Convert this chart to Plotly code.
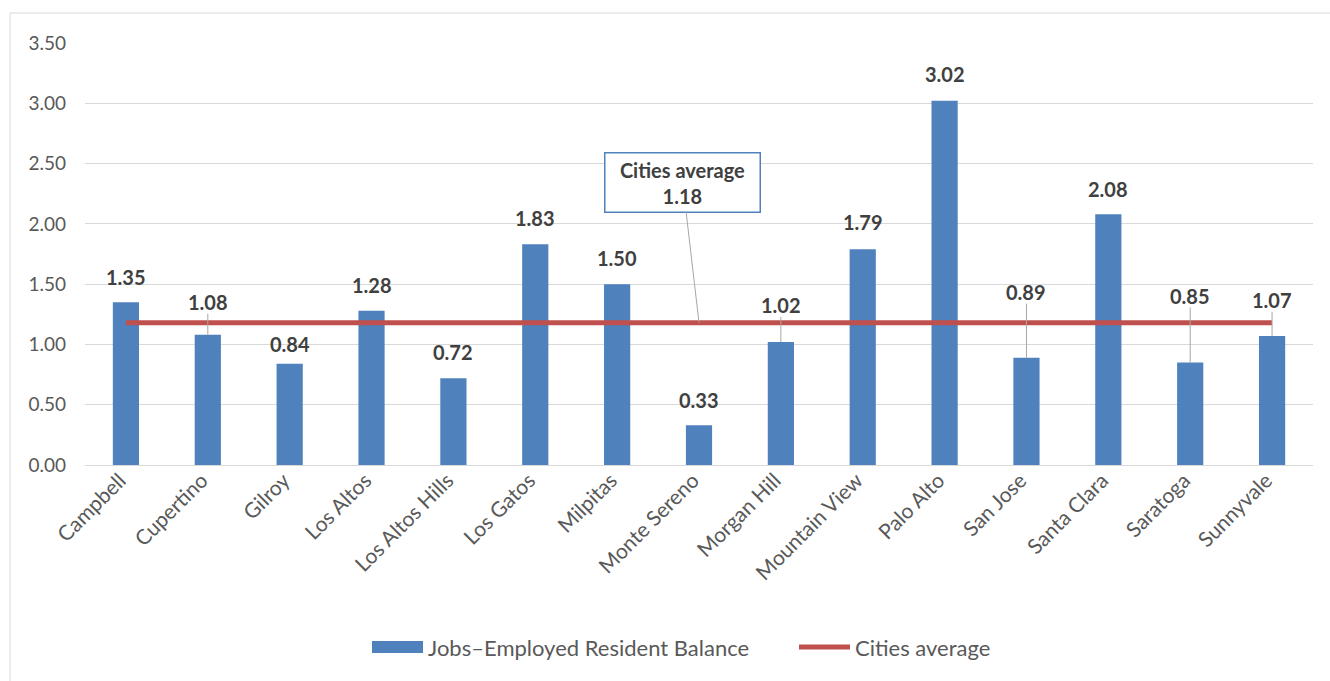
import plotly.graph_objects as go

cities = ["Campbell", "Cupertino", "Gilroy", "Los Altos", "Los Altos Hills", "Los Gatos",
          "Milpitas", "Monte Sereno", "Morgan Hill", "Mountain View", "Palo Alto",
          "San Jose", "Santa Clara", "Saratoga", "Sunnyvale"]
balance = [1.35, 1.08, 0.84, 1.28, 0.72, 1.83, 1.50, 0.33, 1.02, 1.79, 3.02,
           0.89, 2.08, 0.85, 1.07]
average = 1.18
series_names = ["Jobs\u2013Employed Resident Balance", "Cities average"]
# label vertical offset (px) above bar top; larger for labels with leader lines
label_shift = [25, 33, 20, 26, 26, 26, 26, 25, 37, 27, 27, 66, 25, 67, 36]
leader = [False, True, False, False, False, False, False, False, True, False, False,
          True, False, True, True]

BLUE = "#4f81bd"
RED = "#c0504d"
TXT = "#404040"
GRAY = "#595959"
FONT = "Lato, 'Open Sans', sans-serif"

# plot area in pixels
L, R, T, B = 85, 1313, 43, 465
W, H = R - L, B - T


def px_x(p):
    return (p - L) / W


def px_y(p):
    return (B - p) / H


fig = go.Figure()
fig.add_trace(go.Bar(x=cities, y=balance, name=series_names[0],
                     marker=dict(color=BLUE, line=dict(width=0))))
fig.add_trace(go.Scatter(x=cities, y=[average] * len(cities), mode="lines",
                         name=series_names[1], line=dict(color=RED, width=5)))

px_per_unit = H / 3.5
for i, (c, v) in enumerate(zip(cities, balance)):
    fig.add_annotation(x=c, y=v, yshift=label_shift[i], text="<b>%.2f</b>" % v,
                       showarrow=False, font=dict(size=20, color=TXT, family=FONT),
                       yanchor="middle")
    if leader[i]:
        y1 = v + (label_shift[i] - 12) / px_per_unit
        fig.add_shape(type="line", xref="x", yref="y", x0=i, x1=i, y0=v, y1=y1,
                      line=dict(color="#a6a6a6", width=1))

# Cities average callout
fig.add_annotation(x=7, y=average, ax=6.8, ay=2.347, axref="x", ayref="y",
                   text="<b>Cities average</b><br><b>%.2f</b>" % average,
                   showarrow=True, arrowhead=0, arrowwidth=1, arrowcolor="#a6a6a6",
                   font=dict(size=20, color=TXT, family=FONT),
                   bordercolor=BLUE, borderwidth=1.5, bgcolor="white",
                   width=152, height=56, borderpad=1)

# outer chart border
fig.add_shape(type="rect", xref="paper", yref="paper",
              x0=px_x(10), x1=px_x(1345), y0=px_y(700), y1=px_y(13),
              line=dict(color="#d9d9d9", width=1), layer="below")

# custom legend
fig.add_shape(type="rect", xref="paper", yref="paper",
              x0=px_x(372), x1=px_x(423), y0=px_y(653), y1=px_y(641),
              fillcolor=BLUE, line=dict(width=0))
fig.add_annotation(xref="paper", yref="paper", x=px_x(426), y=px_y(647),
                   xanchor="left", yanchor="middle", showarrow=False,
                   text=series_names[0], font=dict(size=22, color=GRAY, family=FONT))
fig.add_shape(type="line", xref="paper", yref="paper",
              x0=px_x(799), x1=px_x(850), y0=px_y(647), y1=px_y(647),
              line=dict(color=RED, width=5))
fig.add_annotation(xref="paper", yref="paper", x=px_x(853), y=px_y(647),
                   xanchor="left", yanchor="middle", showarrow=False,
                   text=series_names[1], font=dict(size=22, color=GRAY, family=FONT))

fig.update_layout(
    width=1330, height=681,
    margin=dict(l=L, r=1330 - R, t=T, b=681 - B),
    paper_bgcolor="white", plot_bgcolor="white",
    bargap=0.68,
    showlegend=False,
    font=dict(family=FONT, color=GRAY),
    xaxis=dict(tickangle=-45, tickfont=dict(size=21, color=GRAY),
               showline=True, linecolor="#d9d9d9", linewidth=1, ticks="",
               ticklabelshift=-6, ticklabelstandoff=-6),
    yaxis=dict(range=[0, 3.5], dtick=0.5, tickformat=".2f",
               tickfont=dict(size=19, color=GRAY),
               gridcolor="#d9d9d9", gridwidth=1, zeroline=False, ticks="",
               ticklabelstandoff=18),
)

fig.write_html("out.html")
